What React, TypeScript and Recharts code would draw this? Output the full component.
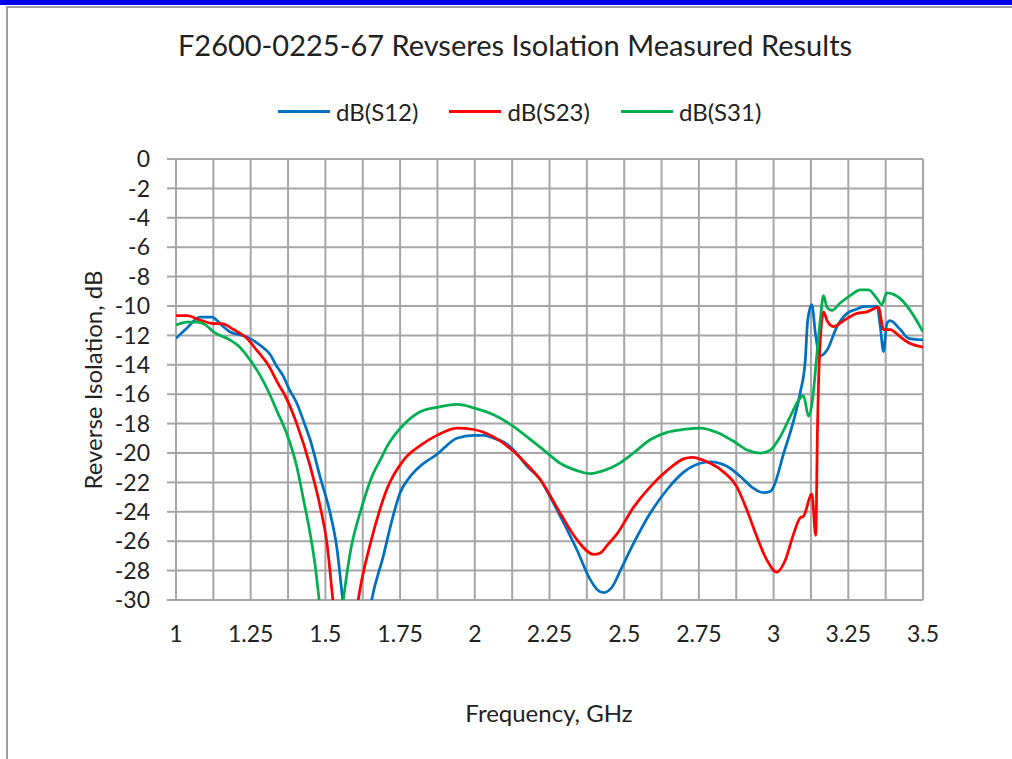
import React from "react";
import { LineChart, Line, XAxis, YAxis, CartesianGrid } from "recharts";

// Reverse isolation sweep (GHz / dB).
// Points below -30 dB fall outside the plot and get clipped.
const s12Freq = [1.0, 1.037, 1.08, 1.12, 1.153, 1.18, 1.237, 1.27, 1.29, 1.315, 1.337, 1.36, 1.375, 1.404, 1.43, 1.449, 1.482, 1.516, 1.538, 1.558, 1.605, 1.655, 1.694, 1.72, 1.75, 1.78, 1.817, 1.873, 1.94, 1.996, 2.03, 2.063, 2.1, 2.13, 2.175, 2.219, 2.25, 2.286, 2.342, 2.386, 2.41, 2.431, 2.46, 2.487, 2.53, 2.587, 2.643, 2.699, 2.755, 2.788, 2.844, 2.889, 2.933, 2.967, 2.99, 3.0, 3.034, 3.067, 3.089, 3.106, 3.114, 3.128, 3.14, 3.156, 3.179, 3.212, 3.246, 3.279, 3.3, 3.346, 3.357, 3.368, 3.379, 3.39, 3.424, 3.452, 3.5];
const s12Db = [-12.2, -11.5, -10.75, -10.75, -11.3, -11.75, -12.1, -12.5, -12.8, -13.3, -14.1, -14.8, -15.5, -16.6, -18.0, -19.1, -21.6, -24.1, -26.4, -30, -38, -30, -27.0, -24.8, -22.7, -21.7, -20.9, -20.1, -19.0, -18.8, -18.8, -19.0, -19.3, -19.8, -20.9, -21.8, -22.9, -24.3, -26.6, -28.6, -29.3, -29.5, -29.1, -28.0, -26.2, -24.1, -22.5, -21.3, -20.7, -20.6, -20.9, -21.6, -22.4, -22.7, -22.6, -22.3, -20.0, -17.8, -15.9, -13.7, -11.0, -9.9, -11.9, -13.4, -13.0, -11.4, -10.5, -10.2, -10.05, -10.0, -11.4, -13.1, -11.2, -11.0, -11.6, -12.2, -12.3];

const s23Freq = [1.0, 1.037, 1.08, 1.125, 1.153, 1.193, 1.237, 1.27, 1.305, 1.348, 1.36, 1.404, 1.449, 1.482, 1.505, 1.525, 1.567, 1.61, 1.65, 1.68, 1.705, 1.761, 1.817, 1.873, 1.94, 1.996, 2.063, 2.13, 2.175, 2.219, 2.286, 2.342, 2.398, 2.42, 2.442, 2.476, 2.531, 2.587, 2.643, 2.699, 2.727, 2.777, 2.833, 2.877, 2.911, 2.944, 2.978, 3.011, 3.039, 3.067, 3.089, 3.1, 3.128, 3.141, 3.147, 3.153, 3.167, 3.179, 3.2, 3.234, 3.279, 3.312, 3.351, 3.368, 3.39, 3.424, 3.452, 3.5];
const s23Db = [-10.66, -10.66, -10.95, -11.2, -11.2, -11.6, -12.2, -13.0, -13.9, -15.5, -15.9, -18.0, -20.9, -23.6, -26.1, -30, -38, -30, -26.2, -24.0, -22.5, -20.5, -19.5, -18.8, -18.3, -18.4, -18.9, -19.9, -20.8, -21.8, -24.1, -25.9, -26.9, -26.8, -26.3, -25.5, -23.7, -22.3, -21.2, -20.4, -20.3, -20.6, -21.3, -22.3, -23.9, -25.7, -27.3, -28.1, -27.3, -25.5, -24.4, -24.3, -22.8, -25.6, -18.2, -13.7, -10.4, -11.0, -11.4, -11.0, -10.5, -10.4, -10.1, -11.6, -11.6, -12.1, -12.5, -12.8];

const s31Freq = [1.0, 1.037, 1.07, 1.1, 1.125, 1.18, 1.214, 1.247, 1.281, 1.309, 1.337, 1.371, 1.404, 1.427, 1.449, 1.466, 1.479, 1.52, 1.56, 1.582, 1.62, 1.66, 1.683, 1.705, 1.761, 1.817, 1.873, 1.94, 2.007, 2.063, 2.13, 2.175, 2.231, 2.286, 2.342, 2.386, 2.431, 2.476, 2.531, 2.587, 2.643, 2.699, 2.755, 2.811, 2.866, 2.911, 2.956, 2.989, 3.022, 3.056, 3.084, 3.1, 3.117, 3.128, 3.145, 3.156, 3.167, 3.179, 3.195, 3.223, 3.256, 3.29, 3.318, 3.346, 3.362, 3.379, 3.424, 3.457, 3.5];
const s31Db = [-11.3, -11.1, -11.1, -11.3, -11.75, -12.3, -12.8, -13.65, -14.7, -15.8, -17.1, -18.7, -20.9, -23.2, -25.5, -27.7, -30, -38, -30, -26.9, -23.8, -21.4, -20.5, -19.6, -18.1, -17.2, -16.9, -16.7, -17.0, -17.4, -18.2, -18.9, -19.8, -20.7, -21.2, -21.4, -21.2, -20.8, -20.0, -19.1, -18.6, -18.4, -18.3, -18.6, -19.2, -19.8, -20.0, -19.8, -18.9, -17.5, -16.4, -16.1, -17.5, -16.7, -13.3, -11.0, -9.3, -10.1, -10.3, -9.8, -9.3, -8.9, -8.9, -9.5, -9.9, -9.1, -9.5, -10.3, -11.75];

const xTicks = [1, 1.125, 1.25, 1.375, 1.5, 1.625, 1.75, 1.875, 2, 2.125, 2.25, 2.375, 2.5, 2.625, 2.75, 2.875, 3, 3.125, 3.25, 3.375, 3.5];
const xMinorTicks = [1.0625, 1.1875, 1.3125, 1.4375, 1.5625, 1.6875, 1.8125, 1.9375, 2.0625, 2.1875, 2.3125, 2.4375, 2.5625, 2.6875, 2.8125, 2.9375, 3.0625, 3.1875, 3.3125, 3.4375];
const yTicks = [0, -2, -4, -6, -8, -10, -12, -14, -16, -18, -20, -22, -24, -26, -28, -30];

const series = [
  { name: "dB(S12)", color: "#0070C0", freq: s12Freq, db: s12Db },
  { name: "dB(S23)", color: "#FF0000", freq: s23Freq, db: s23Db },
  { name: "dB(S31)", color: "#00B050", freq: s31Freq, db: s31Db },
];

const FONT = "Lato, 'Open Sans', sans-serif";
const GRID = "#a6a6a6";
const INK = "#222";

export default function App() {
  return (
    <div style={{ position: "absolute", left: 0, top: 0, width: 1012, height: 759, background: "#fff", overflow: "hidden" }}>
      <div style={{ position: "absolute", left: 0, top: 0, width: 1012, height: 5, background: "#0000f0" }} />
      <div style={{ position: "absolute", left: 6, top: 6, width: 1012, height: 760, borderLeft: "2px solid #a0a0a0", borderTop: "2px solid #a0a0a0" }} />

      <div style={{ position: "absolute", left: 0, top: 27, width: 1030, textAlign: "center", fontFamily: FONT, fontSize: 29, color: INK }}>
        F2600-0225-67 Revseres Isolation Measured Results
      </div>

      {/* legend */}
      <div style={{ position: "absolute", left: 278, top: 97, display: "flex", gap: 31, fontFamily: FONT, fontSize: 24, color: INK }}>
        {series.map((s) => (
          <div key={s.name} style={{ display: "flex", alignItems: "center" }}>
            <span style={{ display: "inline-block", width: 52, height: 3, background: s.color, marginRight: 6 }} />
            <span>{s.name}</span>
          </div>
        ))}
      </div>

      <LineChart width={1012} height={759} margin={{ top: 159, right: 89, bottom: 119, left: 96 }} style={{ position: "absolute", left: 0, top: 0 }}>
        <CartesianGrid stroke={GRID} strokeWidth={2} />
        <XAxis
          type="number"
          dataKey="f"
          domain={[1, 3.5]}
          ticks={xTicks}
          interval={0}
          tickFormatter={(v: number) => (Math.round(v * 1000) % 250 === 0 ? String(v) : "")}
          height={40}
          axisLine={false}
          tickLine={false}
          tickSize={0}
          tickMargin={26}
          tick={{ fontFamily: FONT, fontSize: 23, fill: INK }}
          allowDataOverflow
        />
        <XAxis
          xAxisId="top"
          orientation="top"
          type="number"
          dataKey="f"
          domain={[1, 3.5]}
          ticks={xMinorTicks}
          interval={0}
          mirror
          tick={false}
          axisLine={false}
          tickLine={{ stroke: GRID, strokeWidth: 2 }}
          tickSize={6}
        />
        <YAxis
          type="number"
          domain={[-30, 0]}
          ticks={yTicks}
          interval={0}
          width={80}
          axisLine={false}
          tickLine={{ stroke: GRID, strokeWidth: 2 }}
          tickSize={9}
          tickMargin={17}
          tick={{ fontFamily: FONT, fontSize: 23, fill: INK }}
          allowDataOverflow
        />
        {series.map((s) => (
          <Line
            key={s.name}
            name={s.name}
            data={s.freq.map((f, i) => ({ f, v: s.db[i] }))}
            dataKey="v"
            type="monotone"
            stroke={s.color}
            strokeWidth={2.75}
            dot={false}
            isAnimationActive={false}
          />
        ))}
      </LineChart>

      <div style={{ position: "absolute", left: 0, top: 698, width: 1098, textAlign: "center", fontFamily: FONT, fontSize: 24, color: INK }}>
        Frequency, GHz
      </div>
      <div style={{ position: "absolute", left: 92, top: 380, transform: "translate(-50%, -50%) rotate(-90deg)", whiteSpace: "nowrap", fontFamily: FONT, fontSize: 24, color: INK }}>
        Reverse Isolation, dB
      </div>
    </div>
  );
}
